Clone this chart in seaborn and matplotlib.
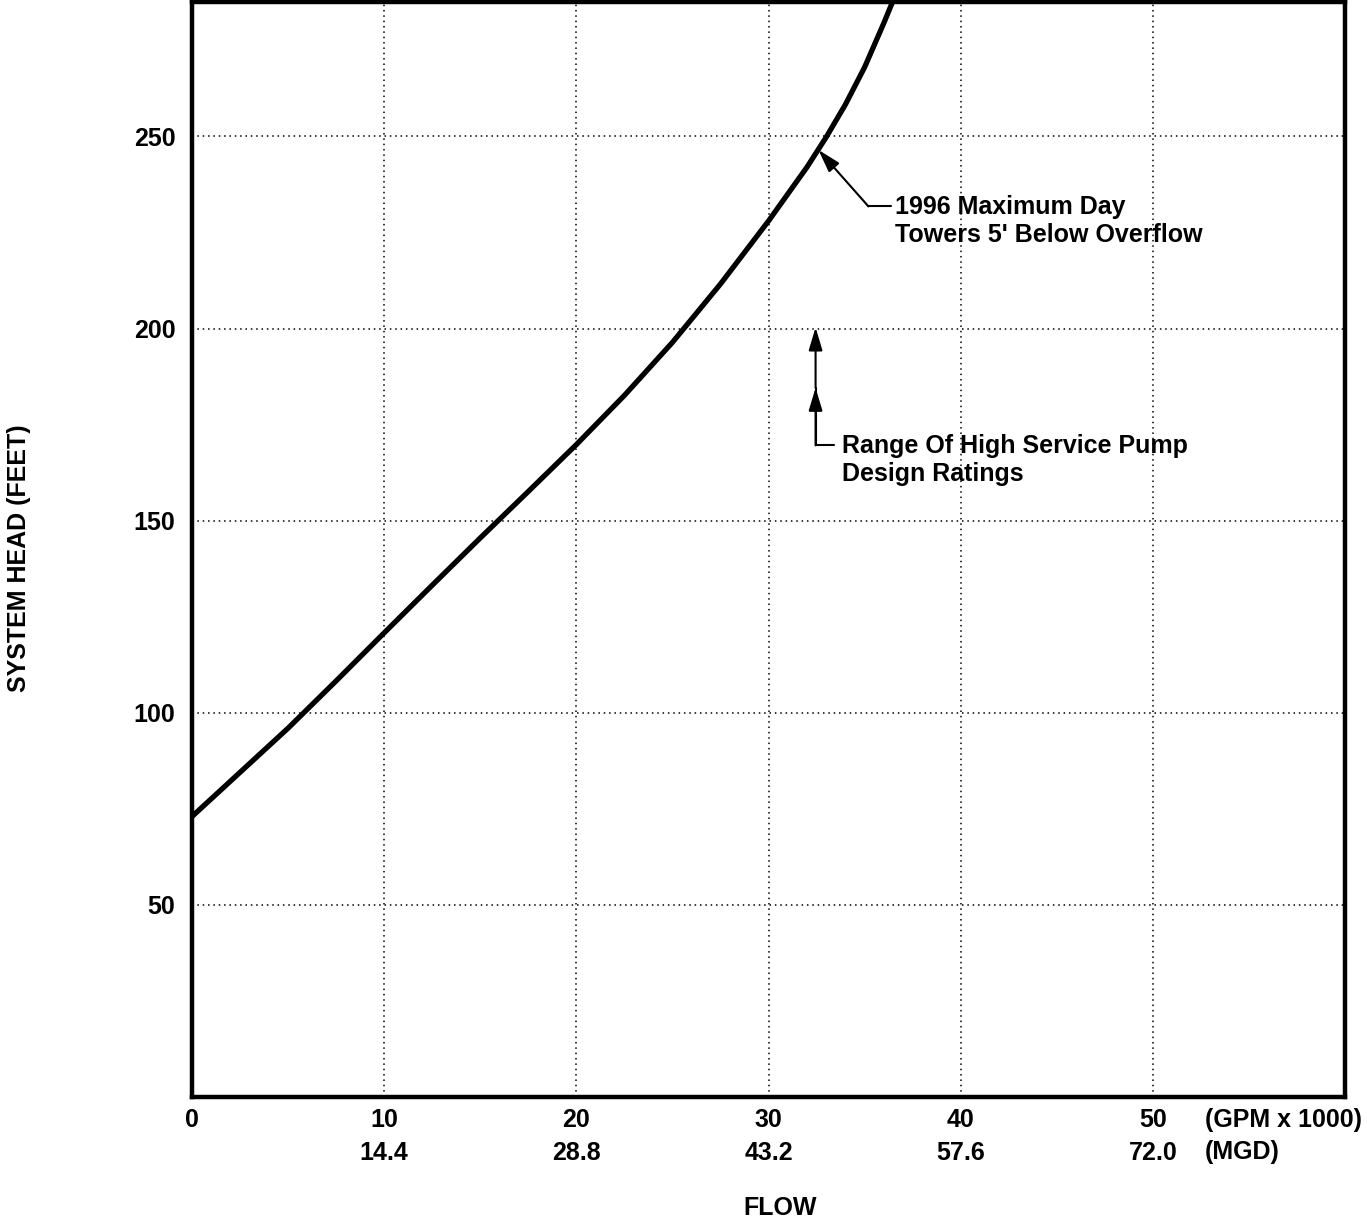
import matplotlib
matplotlib.use("Agg")
import matplotlib.pyplot as plt
import seaborn as sns
import pandas as pd

# System head curve (flow in thousands of GPM, head in feet)
flow_gpm_k = [0.0, 2.5, 5.0, 7.5, 10.0, 12.5, 15.0, 17.5, 20.0, 22.5, 25.0, 27.5,
              30.0, 32.0, 33.0, 34.0, 35.0, 36.0, 36.7]
head_ft = [73.0, 84.5, 96.0, 108.3, 120.8, 133.2, 145.5, 157.6, 169.8, 182.6, 196.4, 211.6,
           228.0, 242.0, 249.8, 258.3, 268.0, 279.5, 288.0]

# Axis ticks
x_ticks = [0, 10, 20, 30, 40, 50]
x_tick_labels = ["0", "10\n14.4", "20\n28.8", "30\n43.2", "40\n57.6", "50\n72.0"]
y_ticks = [50, 100, 150, 200, 250]

# Callouts
label_max_day = "1996 Maximum Day\nTowers 5' Below Overflow"
label_pump = "Range Of High Service Pump\nDesign Ratings"
pump_range = [184.6, 200.3]

sns.set_theme(style="white")
plt.rcParams["font.family"] = ["Liberation Sans", "DejaVu Sans"]
plt.rcParams["font.weight"] = "bold"
plt.rcParams["text.color"] = "black"
plt.rcParams["axes.labelcolor"] = "black"
plt.rcParams["xtick.color"] = "black"
plt.rcParams["ytick.color"] = "black"

W, H = 1367, 1219
fig = plt.figure(figsize=(W / 100, H / 100), dpi=100)
ax = fig.add_axes([192 / W, 1 - 1097 / H, (1345 - 192) / W, (1097 - 2) / H])

df = pd.DataFrame({"flow": flow_gpm_k, "head": head_ft})
sns.lineplot(data=df, x="flow", y="head", ax=ax, color="black", linewidth=3.8,
             sort=False, estimator=None, zorder=5,
             solid_joinstyle="round", solid_capstyle="round")

ax.set_xlim(0, 60)
ax.set_ylim(0, 285)
ax.set_xticks(x_ticks)
ax.set_xticklabels(x_tick_labels, fontsize=18, fontweight="bold", linespacing=1.48)
ax.set_yticks(y_ticks)
ax.set_yticklabels([str(v) for v in y_ticks], fontsize=18, fontweight="bold")

ax.tick_params(axis="y", direction="in", length=11, width=2, pad=12, colors="black")
ax.tick_params(axis="x", direction="in", length=8, width=1.5, pad=8, colors="black")

ax.grid(True, color="black", linestyle=(0, (1, 2.5)), linewidth=1.1)
for side in ["left", "right", "top", "bottom"]:
    ax.spines[side].set_color("black")
    ax.spines[side].set_linewidth(3.2)
    ax.spines[side].set_visible(True)

ax.set_xlabel("FLOW", fontsize=18, fontweight="bold", color="black")
ax.xaxis.set_label_coords((780 - 192) / 1153, -(1196 - 1097) / 1095)
ax.set_ylabel("SYSTEM HEAD (FEET)", fontsize=18, fontweight="bold", color="black")
ax.yaxis.set_label_coords(-(192 - 31) / 1153, (1097 - 558) / 1095)

# Unit captions to the right of the tick labels
fig.text(1205 / W, 1 - 1120 / H, "(GPM x 1000)", fontsize=18, fontweight="bold",
         ha="left", va="center", color="black")
fig.text(1205 / W, 1 - 1152 / H, "(MGD)", fontsize=18, fontweight="bold",
         ha="left", va="center", color="black")

arrow_style = dict(arrowstyle="-|>,head_length=1.0,head_width=0.3",
                   color="black", lw=1.5, shrinkA=0, shrinkB=0, mutation_scale=14)

# Callout: maximum day curve
tip = (32.6, 246.5)
elbow = (35.2, 231.8)
ax.plot([elbow[0], 36.35], [elbow[1], elbow[1]], color="black", lw=1.5, zorder=6)
ax.annotate("", xy=tip, xytext=elbow, arrowprops=arrow_style, zorder=6)
ax.text(36.6, 228.1, label_max_day, fontsize=18, fontweight="bold", color="black",
        ha="left", va="center", linespacing=1.2, zorder=6)

# Callout: pump design rating range
px = 32.45
base_y = 169.6
ax.plot([px, px, 33.4], [pump_range[0], base_y, base_y], color="black", lw=1.5, zorder=6)
ax.annotate("", xy=(px, pump_range[1]), xytext=(px, pump_range[0]),
            arrowprops=arrow_style, zorder=6)
ax.annotate("", xy=(px, pump_range[0]), xytext=(px, base_y),
            arrowprops=arrow_style, zorder=6)
ax.text(33.85, 165.8, label_pump, fontsize=18, fontweight="bold", color="black",
        ha="left", va="center", linespacing=1.2, zorder=6)

fig.savefig("out.png", dpi=100)
